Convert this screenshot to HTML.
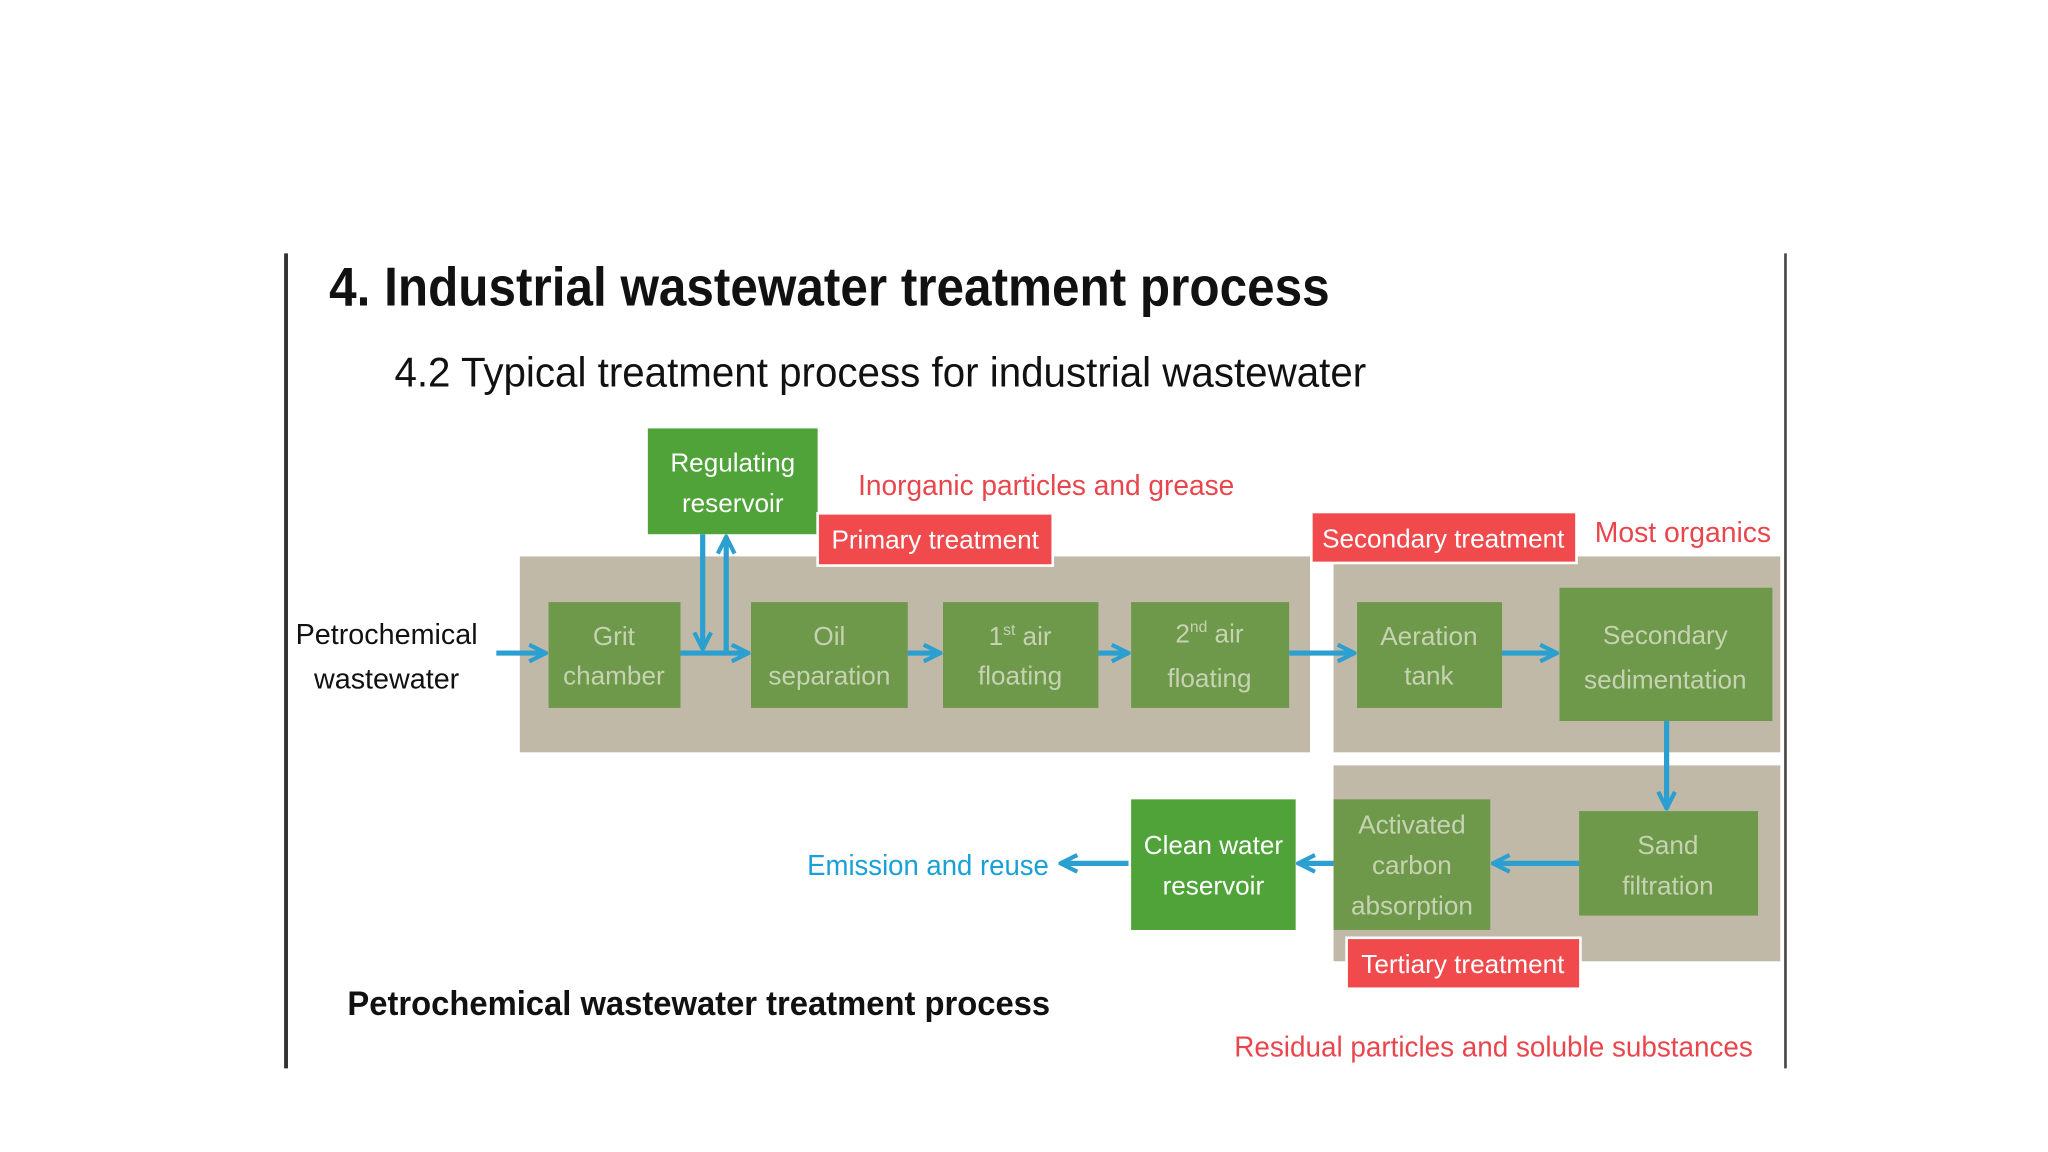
<!DOCTYPE html>
<html><head><meta charset="utf-8"><style>html,body{margin:0;padding:0;background:#fff}svg{display:block}</style></head>
<body>
<svg width="2048" height="1152" viewBox="0 0 1568 882" xmlns="http://www.w3.org/2000/svg" font-family="Liberation Sans, sans-serif">
<defs>
<marker id="a" viewBox="0 0 10 10" refX="9" refY="5" markerWidth="4" markerHeight="4" orient="auto-start-reverse" markerUnits="strokeWidth"><path d="M1,1 L9,5 L1,9" fill="none" stroke="#2a9fd0" stroke-width="2"/></marker>
</defs>
<rect width="1568" height="882" fill="#fff"/>
<line x1="219" y1="194" x2="219" y2="818" stroke="#333" stroke-width="3"/>
<line x1="1367" y1="194" x2="1367" y2="818" stroke="#444" stroke-width="2"/>
<text x="252" y="234" font-size="42" font-weight="bold" fill="#111" textLength="766" lengthAdjust="spacingAndGlyphs">4. Industrial wastewater treatment process</text>
<text x="302" y="296" font-size="32" fill="#111" textLength="744" lengthAdjust="spacingAndGlyphs">4.2 Typical treatment process for industrial wastewater</text>
<rect x="398" y="426" width="605" height="150" fill="#c1b9a8"/>
<rect x="1021" y="426" width="342" height="150" fill="#c1b9a8"/>
<rect x="1021" y="586" width="342" height="150" fill="#c1b9a8"/>
<g fill="#6e984a">
<rect x="420" y="461" width="101" height="81"/>
<rect x="575" y="461" width="120" height="81"/>
<rect x="722" y="461" width="119" height="81"/>
<rect x="866" y="461" width="121" height="81"/>
<rect x="1039" y="461" width="111" height="81"/>
<rect x="1194" y="450" width="163" height="102"/>
<rect x="1209" y="621" width="137" height="80"/>
<rect x="1021" y="612" width="120" height="100"/>
</g>
<rect x="496" y="328" width="130" height="81" fill="#4fa338"/>
<rect x="866" y="612" width="126" height="100" fill="#4fa338"/>
<g fill="#c6d3b2" font-size="20" text-anchor="middle">
<text x="470" y="494">Grit</text><text x="470" y="524">chamber</text>
<text x="635" y="494">Oil</text><text x="635" y="524">separation</text>
<text x="781" y="494">1<tspan font-size="12" dy="-8">st</tspan><tspan dy="8"> air</tspan></text><text x="781" y="524">floating</text>
<text x="926" y="492">2<tspan font-size="12" dy="-8">nd</tspan><tspan dy="8"> air</tspan></text><text x="926" y="526">floating</text>
<text x="1094" y="494">Aeration</text><text x="1094" y="524">tank</text>
<text x="1275" y="493">Secondary</text><text x="1275" y="527">sedimentation</text>
<text x="1277" y="654">Sand</text><text x="1277" y="685">filtration</text>
<text x="1081" y="638">Activated</text><text x="1081" y="669">carbon</text><text x="1081" y="700">absorption</text>
</g>
<g fill="#fff" font-size="20" text-anchor="middle">
<text x="561" y="361">Regulating</text><text x="561" y="392">reservoir</text>
<text x="929" y="654">Clean water</text><text x="929" y="685">reservoir</text>
</g>
<g fill="#f04a4c" stroke="#fff" stroke-width="2">
<rect x="626" y="393" width="180" height="40"/>
<rect x="1004" y="392" width="203" height="39"/>
<rect x="1031" y="718" width="179" height="39"/>
</g>
<g fill="#fff" font-size="20" text-anchor="middle">
<text x="716" y="420">Primary treatment</text>
<text x="1105" y="419">Secondary treatment</text>
<text x="1120" y="745">Tertiary treatment</text>
</g>
<g fill="#e8464c" font-size="22">
<text x="657" y="379" textLength="288" lengthAdjust="spacingAndGlyphs">Inorganic particles and grease</text>
<text x="1221" y="415" textLength="135" lengthAdjust="spacingAndGlyphs">Most organics</text>
<text x="945" y="809" textLength="397" lengthAdjust="spacingAndGlyphs">Residual particles and soluble substances</text>
</g>
<g fill="#111" font-size="22" text-anchor="middle">
<text x="296" y="493">Petrochemical</text><text x="296" y="527">wastewater</text>
</g>
<text x="618" y="670" font-size="22" fill="#1aa0d8" textLength="185" lengthAdjust="spacingAndGlyphs">Emission and reuse</text>
<text x="266" y="777" font-size="26" font-weight="bold" fill="#111" textLength="538" lengthAdjust="spacingAndGlyphs">Petrochemical wastewater treatment process</text>
<g stroke="#2a9fd0" stroke-width="4" fill="none" marker-end="url(#a)">
<line x1="380" y1="500" x2="418" y2="500"/>
<line x1="521" y1="500" x2="573" y2="500"/>
<line x1="538" y1="409" x2="538" y2="497"/>
<line x1="556" y1="500" x2="556" y2="411"/>
<line x1="695" y1="500" x2="720" y2="500"/>
<line x1="841" y1="500" x2="864" y2="500"/>
<line x1="987" y1="500" x2="1037" y2="500"/>
<line x1="1150" y1="500" x2="1192" y2="500"/>
<line x1="1276" y1="552" x2="1276" y2="619"/>
<line x1="1209" y1="661" x2="1143" y2="661"/>
<line x1="1021" y1="661" x2="994" y2="661"/>
<line x1="864" y1="661" x2="812" y2="661"/>
</g>
</svg>
</body></html>
